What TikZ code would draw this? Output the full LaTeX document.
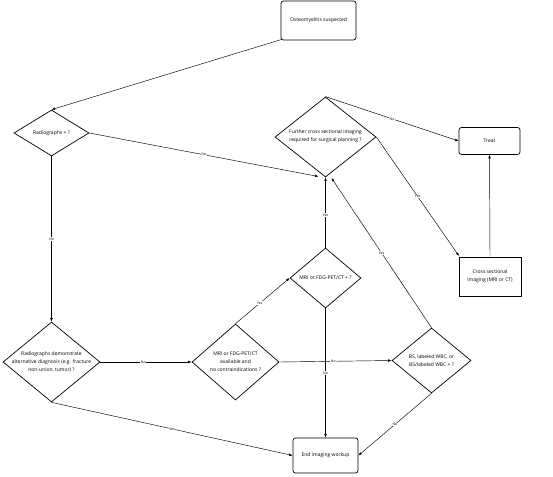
\documentclass[tikz,border=0pt]{standalone}
\usepackage{fontspec}
\setmainfont{Open Sans}
\usetikzlibrary{shapes.geometric,arrows.meta}
\begin{document}
\begin{tikzpicture}[x=1pt,y=-1pt,
  txt/.style={font=\fontsize{5}{8}\selectfont,align=center,inner sep=0pt},
  rbox/.style={draw,line width=0.7pt,rounded corners=2.5pt,inner sep=0pt,txt},
  sbox/.style={draw,line width=0.7pt,inner sep=0pt,txt},
  dia/.style={draw,diamond,line width=0.7pt,inner sep=0pt},
  conn/.style={draw,line width=0.45pt,-{Latex[length=3.5pt,width=2.6pt]}},
  lab/.style={font=\fontsize{3.5}{4}\selectfont,fill=white,inner sep=0.6pt,midway}]
\useasboundingbox (0,0) rectangle (553,476);

\node[rbox,minimum width=75,minimum height=39] (osteo) at (318.5,20.5) {Osteomyelitis suspected};
\node[dia,minimum width=75,minimum height=46,label={[txt]center:Radiographs + ?}] (rad) at (51.5,133) {};
\node[dia,minimum width=101,minimum height=80,label={[txt,yshift=1pt]center:Further cross sectional imaging\\required for surgical planning ?}] (fur) at (325.5,137) {};
\node[rbox,minimum width=61,minimum height=27] (treat) at (489.5,141) {Treat};
\node[sbox,minimum width=62,minimum height=39] (cross) at (490,276.5) {Cross sectional\\imaging (MRI or CT)};
\node[dia,minimum width=71,minimum height=60,label={[txt]center:MRI or FDG-PET/CT + ?}] (mrip) at (325.5,278) {};
\node[dia,minimum width=97,minimum height=80,label={[txt]center:Radiographs demonstrate\\alternative diagnosis (e.g. fracture\\non-union, tumor) ?}] (rd) at (51.5,362) {};
\node[dia,minimum width=87,minimum height=76,label={[txt]center:MRI or FDG-PET/CT\\available and\\no contraindications ?}] (mria) at (235.5,362) {};
\node[dia,minimum width=79,minimum height=65,label={[txt]center:BS, labeled WBC, or\\BS/labeled WBC + ?}] (bs) at (431.5,360.5) {};
\node[rbox,minimum width=65,minimum height=35] (end) at (325.5,455.5) {End imaging workup};

\coordinate (fin1) at (318.5,176.5);
\coordinate (fin3) at (331.5,178);
\coordinate (osc) at (281.5,39.5);
\coordinate (crin) at (459,256);

\draw[conn] (osc) -- (rad.north);
\draw[conn] (rad.east) -- (fin1) node[lab]{Yes};
\draw[conn] (rad.south) -- (rd.north) node[lab]{No};
\draw[conn] (fur.north) -- (treat.west) node[lab]{No};
\draw[conn] (fur.east) -- (crin) node[lab]{Yes};
\draw[conn] (cross.north) -- (treat.south);
\draw[conn] (mrip.north) -- (fur.south) node[lab,pos=0.46]{Yes};
\draw[conn] (mrip.south) -- (end.north) node[lab]{No};
\draw[conn] (rd.east) -- (mria.west) node[lab,pos=0.47]{No};
\draw[conn] (rd.south) -- (end.west) node[lab]{Yes};
\draw[conn] (mria.north) -- (mrip.west) node[lab,pos=0.45]{Yes};
\draw[conn] (mria.east) -- (bs.west) node[lab,pos=0.48]{No};
\draw[conn] (bs.north) -- (fin3) node[lab]{Yes};
\draw[conn] (bs.south) -- (end.east) node[lab]{No};
\end{tikzpicture}
\end{document}
